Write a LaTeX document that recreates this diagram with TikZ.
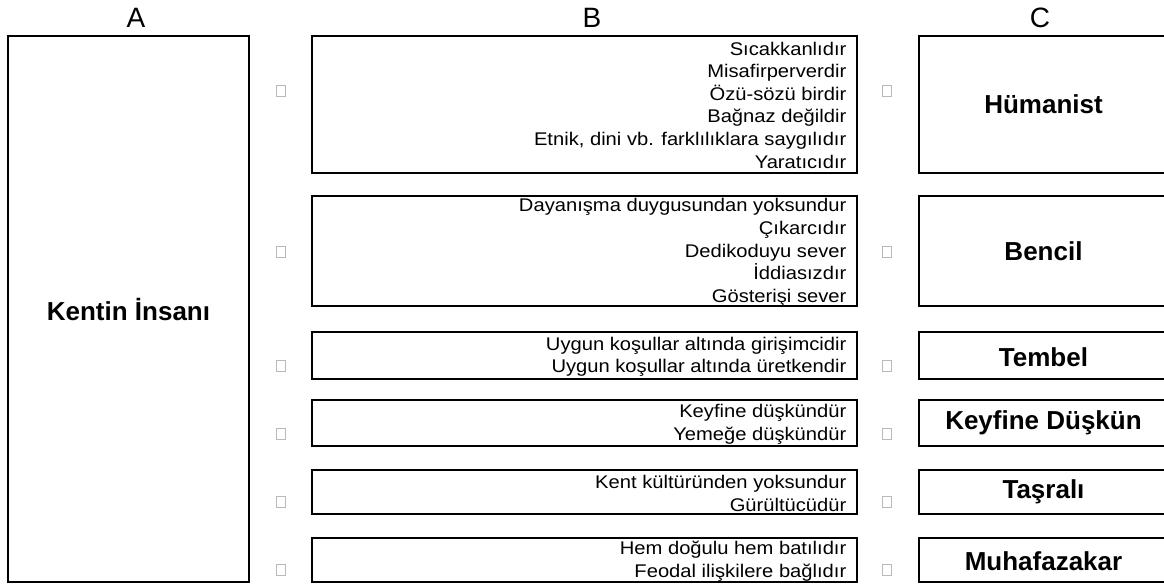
\documentclass[tikz,border=0pt]{standalone}
\usepackage{fontspec}
\setmainfont{Liberation Sans}
\newfontfamily\traitfont[FakeStretch=1.1]{Liberation Sans}
\usetikzlibrary{fit,positioning}

\begin{document}
\begin{tikzpicture}[x=0.75pt,y=-0.75pt,
        cell/.style={draw,line width=0.9pt,inner sep=0pt},
        colhead/.style={font=\fontsize{21}{25}\selectfont},
        trait/.style={anchor=east,align=right,inner sep=0pt,font=\traitfont\fontsize{13.75}{16.9}\selectfont},
        typelabel/.style={font=\bfseries\fontsize{19.5}{23}\selectfont},
        checkbox/.style={draw=gray!55,line width=0.5pt,minimum width=6.5pt,minimum height=8.5pt,inner sep=0pt}]
        \useasboundingbox (0,0) rectangle (1164,585);
        \clip (0,0) rectangle (1164,585);
        \node[colhead] (ha) at (136,18) {A};
        \node[colhead] (hb) at (592,18) {B};
        \node[colhead] (hc) at (1040,18) {C};
        \node[cell,fit={(8,36) (249,582)}] (kent) {};
        \node[typelabel] (kentlabel) at (kent) {Kentin İnsanı};
        \node[cell,fit={(312,36) (857,173)}] (b1) {};
        \node[cell,fit={(312,196) (857,306)}] (b2) {};
        \node[cell,fit={(312,332) (857,379)}] (b3) {};
        \node[cell,fit={(312,400) (857,446)}] (b4) {};
        \node[cell,fit={(312,470) (857,514)}] (b5) {};
        \node[cell,fit={(312,538) (857,582)}] (b6) {};
        \node[trait] (t1) at ([xshift=-8.25pt,yshift=-0.5pt]b1.east) {Sıcakkanlıdır\\Misafirperverdir\\Özü-sözü birdir\\Bağnaz değildir\\Etnik, dini vb. farklılıklara saygılıdır\\Yaratıcıdır};
        \node[trait] (t2) at ([xshift=-8.25pt,yshift=-1pt]b2.east) {Dayanışma duygusundan yoksundur\\Çıkarcıdır\\Dedikoduyu sever\\İddiasızdır\\Gösterişi sever};
        \node[trait] (t3) at ([xshift=-8.25pt,yshift=-1pt]b3.east) {Uygun koşullar altında girişimcidir\\Uygun koşullar altında üretkendir};
        \node[trait] (t4) at ([xshift=-8.25pt,yshift=-1pt]b4.east) {Keyfine düşkündür\\Yemeğe düşkündür};
        \node[trait] (t5) at ([xshift=-8.25pt,yshift=-1pt]b5.east) {Kent kültüründen yoksundur\\Gürültücüdür};
        \node[trait] (t6) at ([xshift=-8.25pt,yshift=-1pt]b6.east) {Hem doğulu hem batılıdır\\Feodal ilişkilere bağlıdır};
        \node[cell,fit={(919,36) (1168,173)}] (c1) {};
        \node[cell,fit={(919,196) (1168,306)}] (c2) {};
        \node[cell,fit={(919,332) (1168,379)}] (c3) {};
        \node[cell,fit={(919,400) (1168,446)}] (c4) {};
        \node[cell,fit={(919,470) (1168,514)}] (c5) {};
        \node[cell,fit={(919,538) (1168,582)}] (c6) {};
        \node[typelabel] (l1) at (c1) {Hümanist};
        \node[typelabel] (l2) at (c2) {Bencil};
        \node[typelabel] (l3) at ([yshift=-1.5pt]c3) {Tembel};
        \node[typelabel] (l4) at (c4) {Keyfine Düşkün};
        \node[typelabel] (l5) at (c5) {Taşralı};
        \node[typelabel] (l6) at ([yshift=-1pt]c6) {Muhafazakar};
        \node[checkbox] (p1) at (281,91) {};
        \node[checkbox] (p2) at (281,252) {};
        \node[checkbox] (p3) at (281,366) {};
        \node[checkbox] (p4) at (281,434) {};
        \node[checkbox] (p5) at (281,502) {};
        \node[checkbox] (p6) at (281,570) {};
        \node[checkbox] (q1) at (887,91) {};
        \node[checkbox] (q2) at (887,252) {};
        \node[checkbox] (q3) at (887,366) {};
        \node[checkbox] (q4) at (887,434) {};
        \node[checkbox] (q5) at (887,502) {};
        \node[checkbox] (q6) at (887,570) {};
\end{tikzpicture}
\end{document}
